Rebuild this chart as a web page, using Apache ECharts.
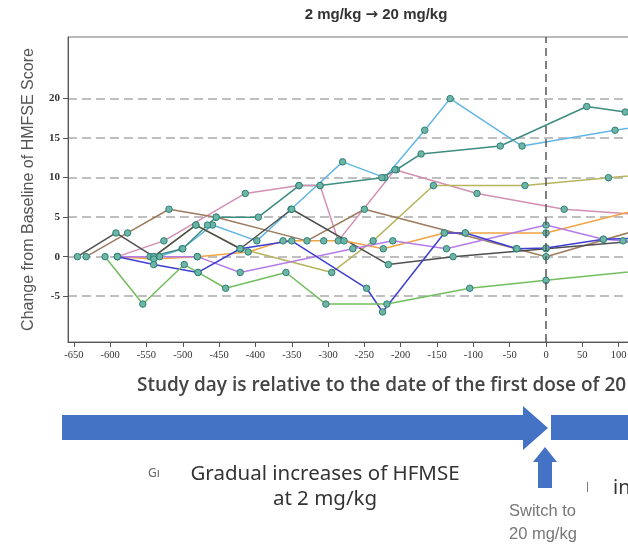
<!DOCTYPE html>
<html>
<head>
<meta charset="utf-8">
<script src="https://cdn.jsdelivr.net/npm/echarts@6.0.0/dist/echarts.min.js"></script>
<style>
  html, body { margin: 0; padding: 0; background: #fff; }
  #chart { width: 628px; height: 545px; }
</style>
</head>
<body>
<div id="chart"></div>
<script>
// tick labels
var xTicks = [-650, -600, -550, -500, -450, -400, -350, -300, -250, -200, -150, -100, -50, 0, 50, 100];
var yTicks = [-5, 0, 5, 10, 15, 20];

// per-patient change from baseline, [study day, change]
var lightBlue = [[-532, 0], [-501, 1], [-459, 4], [-398, 2], [-351, 6], [-280, 12], [-222, 10], [-167, 16], [-132, 20], [-33, 14], [95, 16], [150, 16.8]];
var teal = [[-545, 0], [-500, 1], [-466, 4], [-454, 5], [-396, 5], [-340, 9], [-311, 9], [-226, 10], [-206, 11], [-172, 13], [-63, 14], [56, 19], [109, 18.3], [150, 18]];
var pink = [[-590, 0], [-526, 2], [-414, 8], [-340, 9], [-311, 9], [-286, 2], [-208, 11], [-95, 8], [25, 6], [150, 5.2]];
var olive = [[-540, 0], [-482, 4], [-420, 1], [-295, -2], [-238, 2], [-155, 9], [-29, 9], [86, 10], [150, 10.5]];
var brown = [[-633, 0], [-576, 3], [-519, 6], [-454, 5], [-329, 2], [-250, 6], [-41, 1], [0, 0], [150, 4]];
var darkGray = [[-645, 0], [-592, 3], [-540, 0], [-482, 4], [-421, 1], [-350, 6], [-217, -1], [-128, 0], [0, 1], [150, 2.2]];
var orange = [[-590, 0], [-540, -0.3], [-480, 0], [-410, 0.6], [-362, 2], [-306, 2], [-278, 2], [-224, 1], [-140, 3], [-111, 3], [0, 3], [150, 6.5]];
var purple = [[-590, 0], [-480, 0], [-421, -2], [-266, 1], [-211, 2], [-137, 1], [0, 4], [79, 2.2], [106, 2], [150, 1.8]];
var blue = [[-590, 0], [-540, -1], [-479, -2], [-421, 1], [-350, 2], [-247, -4], [-225, -7], [-140, 3], [-111, 3], [-40, 1], [0, 1.1], [79, 2.2], [150, 2.4]];
var green = [[-607, 0], [-555, -6], [-498, -1], [-479, -2], [-441, -4], [-358, -2], [-303, -6], [-219, -6], [-105, -4], [0, -3], [150, -1.6]];

var patients = [
  {data: lightBlue, color: '#62B6E6'},
  {data: teal, color: '#3D8C80'},
  {data: pink, color: '#D38FB3'},
  {data: olive, color: '#B7B45E'},
  {data: brown, color: '#9C7B5E'},
  {data: darkGray, color: '#4F4F4F'},
  {data: orange, color: '#F2A444'},
  {data: purple, color: '#B57BE8'},
  {data: blue, color: '#3E3ED0'},
  {data: green, color: '#72BE5E'}
];

var chart = echarts.init(document.getElementById('chart'));

var series = patients.map(function (p) {
  return {
    type: 'line',
    data: p.data,
    symbol: 'circle',
    symbolSize: 6.5,
    showAllSymbol: true,
    lineStyle: {color: p.color, width: 1.5},
    itemStyle: {color: '#6DB5A6', borderColor: '#2F7F76', borderWidth: 1},
    emphasis: {disabled: true},
    z: 3
  };
});

// dose switch line at day 0
series[0].markLine = {
  silent: true,
  symbol: 'none',
  label: {show: false},
  lineStyle: {color: '#555', type: [8, 5], width: 1.5},
  data: [{xAxis: 0}]
};

chart.setOption({
  animation: false,
  grid: {left: 68, top: 37, right: -27, bottom: 203, show: true, borderColor: '#777', borderWidth: 1, outerBoundsMode: 'none'},
  xAxis: {
    type: 'value',
    min: -658,
    max: 150,
    axisLine: {onZero: false, lineStyle: {color: '#555', width: 1}},
    axisTick: {length: 5, lineStyle: {color: '#555'}, customValues: xTicks},
    axisLabel: {customValues: xTicks, fontFamily: 'Liberation Serif', fontSize: 10.5, color: '#333', margin: 8},
    splitLine: {show: false}
  },
  yAxis: {
    type: 'value',
    min: -10.8,
    max: 27.8,
    name: 'Change from Baseline of HMFSE Score',
    nameLocation: 'middle',
    nameGap: 31,
    nameTextStyle: {fontFamily: 'Liberation Sans', fontSize: 16, color: '#555'},
    axisLine: {show: true, onZero: false, lineStyle: {color: '#555', width: 1}},
    axisTick: {show: true, length: 5, lineStyle: {color: '#555'}, customValues: yTicks},
    axisLabel: {customValues: yTicks, fontFamily: 'Liberation Serif', fontSize: 11, fontWeight: 'bold', color: '#333', margin: 8},
    splitLine: {show: true, lineStyle: {color: '#aaa', type: [9, 5], width: 1.5}}
  },
  series: series,
  graphic: [
    {type: 'text', x: 376, y: 15, style: {
      text: '2 mg/kg {a|\u2192} 20 mg/kg',
      font: 'bold 15px "Liberation Sans", sans-serif', fill: '#333', textAlign: 'center', textVerticalAlign: 'middle',
      rich: {a: {fontFamily: 'DejaVu Sans', fontWeight: 'bold', fontSize: 15, fill: '#333'}}
    }},
    {type: 'text', x: 137, y: 386, style: {text: 'Study day is relative to the date of the first dose of 20 mg/kg', font: '600 19px "Open Sans", "Noto Sans", sans-serif', fill: '#444', textVerticalAlign: 'middle'}},
    {type: 'polygon', shape: {points: [[62, 415], [523, 415], [523, 406], [548, 428], [523, 450], [523, 440], [62, 440]]}, style: {fill: '#4472C4'}},
    {type: 'rect', shape: {x: 551, y: 415, width: 80, height: 25}, style: {fill: '#4472C4'}},
    {type: 'polygon', shape: {points: [[545, 447], [557, 462], [552, 462], [552, 488], [538, 488], [538, 462], [533, 462]]}, style: {fill: '#4472C4'}},
    {type: 'text', x: 148, y: 474, style: {text: 'G\u0131', font: '12px "Noto Sans", sans-serif', fill: '#666', textVerticalAlign: 'middle'}},
    {type: 'text', x: 325, y: 474, style: {text: 'Gradual increases of HFMSE', font: '20.5px "Noto Sans", sans-serif', fill: '#333', textAlign: 'center', textVerticalAlign: 'middle'}},
    {type: 'text', x: 325, y: 499, style: {text: 'at 2 mg/kg', font: '20.5px "Noto Sans", sans-serif', fill: '#333', textAlign: 'center', textVerticalAlign: 'middle'}},
    {type: 'text', x: 509, y: 511, style: {text: 'Switch to', font: '16.5px "Liberation Sans", sans-serif', fill: '#777', textVerticalAlign: 'middle'}},
    {type: 'text', x: 509, y: 534, style: {text: '20 mg/kg', font: '16.5px "Liberation Sans", sans-serif', fill: '#777', textVerticalAlign: 'middle'}},
    {type: 'text', x: 586, y: 487, style: {text: '|', font: '11px "Liberation Sans", sans-serif', fill: '#666', textVerticalAlign: 'middle'}},
    {type: 'text', x: 613, y: 488, style: {text: 'in', font: '20px "Noto Sans", sans-serif', fill: '#333', textVerticalAlign: 'middle'}}
  ]
});
</script>
</body>
</html>
